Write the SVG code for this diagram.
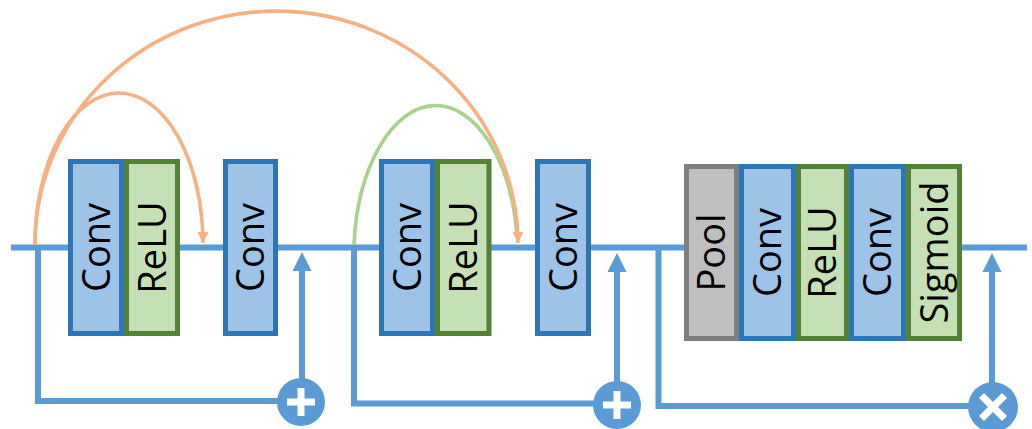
<svg xmlns="http://www.w3.org/2000/svg" width="1032" height="429" viewBox="0 0 1032 429">
  <style>
    .flow { fill: none; stroke: #5B9BD5; stroke-width: 6; }
    .conv { fill: #9DC3E6; stroke: #2E75B6; stroke-width: 5; }
    .relu { fill: #C5E0B4; stroke: #538135; stroke-width: 5; }
    .pool { fill: #BFBFBF; stroke: #7F7F7F; stroke-width: 5; }
    .lbl { font-family: "Open Sans", "Noto Sans", sans-serif; font-size: 38px; fill: #000; text-anchor: middle; }
    .op { fill: #5B9BD5; }
    .sym { stroke: #fff; stroke-width: 7; }
    .skipA { fill: none; stroke: #F4B183; stroke-width: 3.6; }
    .skipG { fill: none; stroke: #A9D18E; stroke-width: 3.6; }
  </style>
  <defs>
    <marker id="orangeHead" viewBox="0 0 10 10" refX="10" refY="5" markerUnits="userSpaceOnUse" markerWidth="12" markerHeight="11" orient="auto">
      <path d="M0,0 L10,5 L0,10 Z" fill="#F4B183"/>
    </marker>
  </defs>

  <!-- connectors -->
  <g id="connectors">
    <line class="flow" x1="11" y1="247.5" x2="1027" y2="247.5"/>
    <!-- residual block 1 -->
    <polyline class="flow" points="38,247.5 38,401 280,401"/>
    <line class="flow" x1="302" y1="380" x2="302" y2="270"/>
    <path d="M292.5,271 L302,252 L311.5,271 Z" fill="#5B9BD5"/>
    <!-- residual block 2 -->
    <polyline class="flow" points="354,247.5 354,403.5 595,403.5"/>
    <line class="flow" x1="617" y1="382" x2="617" y2="271"/>
    <path d="M607.5,272 L617,253 L626.5,272 Z" fill="#5B9BD5"/>
    <!-- attention block -->
    <polyline class="flow" points="658.5,247.5 658.5,406 970,406"/>
    <line class="flow" x1="992" y1="384" x2="992" y2="271"/>
    <path d="M982.5,272 L992,253 L1001.5,272 Z" fill="#5B9BD5"/>
    <!-- dense skip arcs -->
    <path class="skipA" d="M35,245 A84,151 0 0 1 203,243" marker-end="url(#orangeHead)"/>
    <path class="skipG" d="M354,245 A82,151 0 0 1 517,236"/>
    <path class="skipA" d="M35,245 A241.5,233 0 0 1 518,243" marker-end="url(#orangeHead)"/>
  </g>

  <!-- block 1 -->
  <g id="b1-conv1">
    <rect class="conv" x="70.5" y="161.5" width="51" height="172"/>
    <text class="lbl" transform="translate(96,247.5) rotate(-90)" y="13.5">Conv</text>
  </g>
  <g id="b1-relu">
    <rect class="relu" x="126.5" y="161.5" width="51" height="172"/>
    <text class="lbl" transform="translate(152,247.5) rotate(-90)" y="13.5">ReLU</text>
  </g>
  <g id="b1-conv2">
    <rect class="conv" x="225.5" y="161.5" width="50" height="172"/>
    <text class="lbl" transform="translate(250.5,247.5) rotate(-90)" y="13.5">Conv</text>
  </g>
  <g id="b1-add">
    <circle class="op" cx="301" cy="402" r="24"/>
    <line class="sym" x1="287" y1="402" x2="315" y2="402"/>
    <line class="sym" x1="301" y1="388" x2="301" y2="416"/>
  </g>

  <!-- block 2 -->
  <g id="b2-conv1">
    <rect class="conv" x="381.5" y="161.5" width="51" height="172"/>
    <text class="lbl" transform="translate(407,247.5) rotate(-90)" y="13.5">Conv</text>
  </g>
  <g id="b2-relu">
    <rect class="relu" x="437.5" y="161.5" width="51.5" height="172"/>
    <text class="lbl" transform="translate(463,247.5) rotate(-90)" y="13.5">ReLU</text>
  </g>
  <g id="b2-conv2">
    <rect class="conv" x="537.5" y="161.5" width="51" height="172"/>
    <text class="lbl" transform="translate(563,247.5) rotate(-90)" y="13.5">Conv</text>
  </g>
  <g id="b2-add">
    <circle class="op" cx="617" cy="405" r="24"/>
    <line class="sym" x1="603" y1="405" x2="631" y2="405"/>
    <line class="sym" x1="617" y1="391" x2="617" y2="419"/>
  </g>

  <!-- attention block -->
  <g id="b3-pool">
    <rect class="pool" x="686.5" y="166.5" width="50" height="172"/>
    <text class="lbl" transform="translate(711.5,252.5) rotate(-90)" y="13.5">Pool</text>
  </g>
  <g id="b3-conv1">
    <rect class="conv" x="741.5" y="166.5" width="52" height="172"/>
    <text class="lbl" transform="translate(767.5,252.5) rotate(-90)" y="13.5">Conv</text>
  </g>
  <g id="b3-relu">
    <rect class="relu" x="798.5" y="166.5" width="48" height="172"/>
    <text class="lbl" transform="translate(822.5,252.5) rotate(-90)" y="13.5">ReLU</text>
  </g>
  <g id="b3-conv2">
    <rect class="conv" x="851.5" y="166.5" width="52" height="172"/>
    <text class="lbl" transform="translate(877.5,252.5) rotate(-90)" y="13.5">Conv</text>
  </g>
  <g id="b3-sigmoid">
    <rect class="relu" x="908.5" y="166.5" width="51" height="172"/>
    <text class="lbl" transform="translate(934,252.5) rotate(-90)" y="13.5">Sigmoid</text>
  </g>
  <g id="b3-mul">
    <circle class="op" cx="993" cy="407" r="25"/>
    <line class="sym" x1="981.5" y1="395.5" x2="1004.5" y2="418.5"/>
    <line class="sym" x1="1004.5" y1="395.5" x2="981.5" y2="418.5"/>
  </g>
</svg>
